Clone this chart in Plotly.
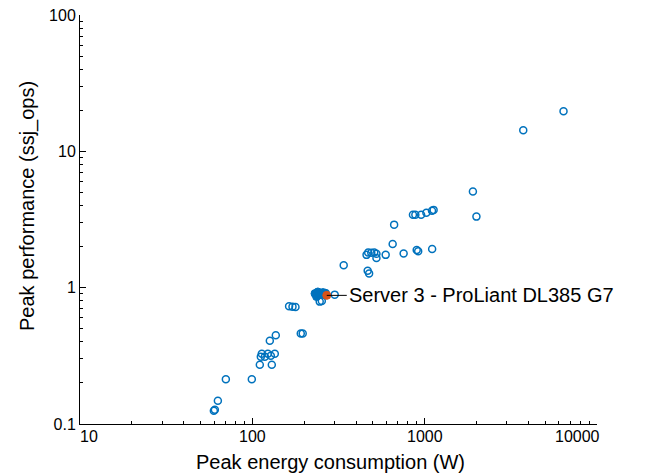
import plotly.graph_objects as go
import math

# Open-marker servers: peak energy (W) and peak performance (ssj_ops)
energy_open = [60.6, 59.8, 63.1, 70.2, 99.3, 110.5, 129.7,
               113.5, 118.2, 123, 128, 135, 112, 126.3, 136.8, 191, 196,
               163.4, 171, 178, 246, 253, 300.6,
               339, 460, 470, 490, 510, 525, 525, 594, 652, 665, 755,
               899, 917, 1105, 467, 476,
               855, 883, 954, 1023, 1103, 1127, 1905, 1997, 3733, 6393]
perf_open = [0.127, 0.125, 0.148, 0.213, 0.213, 0.272, 0.272,
             0.328, 0.312, 0.328, 0.317, 0.328, 0.312, 0.408, 0.447, 0.462, 0.462,
             0.73, 0.726, 0.722, 0.79, 0.80, 0.889,
             1.46, 1.74, 1.81, 1.80, 1.81, 1.77, 1.65, 1.74, 2.09, 2.90, 1.78,
             1.89, 1.85, 1.92, 1.33, 1.27,
             3.42, 3.42, 3.42, 3.55, 3.67, 3.72, 5.08, 3.32, 14.3, 19.7]

# Filled markers: servers in the same cluster as the highlighted one
energy_cluster = [231, 240, 248, 257, 236, 266, 262, 244]
perf_cluster = [0.905, 0.93, 0.90, 0.92, 0.86, 0.91, 0.885, 0.895]

# Highlighted server
energy_sel = [270.4]
perf_sel = [0.878]
sel_label = "Server 3 - ProLiant DL385 G7"

x_ticks = [10, 100, 1000, 10000]
x_ticklabels = ["10", "100", "1000", "10000"]
y_ticks = [0.1, 1, 10, 100]
y_ticklabels = ["0.1", "1", "10", "100"]
x_title = "Peak energy consumption (W)"
y_title = "Peak performance (ssj_ops)"

# style: horizontal nudges of the x tick labels (pixels)
x_label_nudge = [9, 0, 0, -20]

blue = "#0072BD"
red = "#D95319"
font_family = "Liberation Sans, Arial, sans-serif"
tick_size = 16
title_size = 20

def minor_vals(majors):
    return [m * k for m in majors[:-1] for k in range(2, 10)]

fig = go.Figure()
fig.add_trace(go.Scatter(
    x=energy_open, y=perf_open, mode="markers",
    marker=dict(symbol="circle-open", size=7, color=blue, line=dict(width=1.5, color=blue)),
    showlegend=False))
fig.add_trace(go.Scatter(
    x=energy_cluster, y=perf_cluster, mode="markers",
    marker=dict(symbol="circle", size=8, color=blue, line=dict(width=1, color=blue)),
    showlegend=False))
fig.add_trace(go.Scatter(
    x=energy_sel, y=perf_sel, mode="markers",
    marker=dict(symbol="circle", size=8, color=red, line=dict(width=1, color=red)),
    showlegend=False))

fig.add_annotation(
    x=math.log10(energy_sel[0]), y=math.log10(perf_sel[0]), xref="x", yref="y",
    text=sel_label, showarrow=True, arrowhead=0, arrowwidth=1, arrowcolor="black",
    ax=20, ay=0, xanchor="left", yanchor="middle", standoff=0,
    font=dict(family=font_family, size=title_size, color="black"))

# x tick labels as text annotations (edge labels pulled inward, as in the reference)
for v, t, dx in zip(x_ticks, x_ticklabels, x_label_nudge):
    fig.add_annotation(
        x=math.log10(v), y=0, xref="x", yref="paper", text=t, showarrow=False,
        xanchor="center", yanchor="top", xshift=dx, yshift=-2,
        font=dict(family=font_family, size=tick_size, color="black"))

# axis titles
fig.add_annotation(
    x=0.484, y=0, xref="paper", yref="paper", text=x_title, showarrow=False,
    xanchor="center", yanchor="middle", yshift=-38,
    font=dict(family=font_family, size=title_size, color="black"))
fig.add_annotation(
    x=0, y=0.533, xref="paper", yref="paper", text=y_title, showarrow=False,
    textangle=-90, xanchor="center", yanchor="middle", xshift=-53,
    font=dict(family=font_family, size=title_size, color="black"))

axis_common = dict(
    type="log", showline=True, linecolor="black", linewidth=1, mirror=False,
    showgrid=False, zeroline=False, ticks="inside", ticklen=6, tickcolor="black",
    automargin=False, ticklabeloverflow="allow",
    tickfont=dict(family=font_family, size=tick_size, color="black"),
)

fig.update_xaxes(
    range=[1, 4], tickmode="array", tickvals=x_ticks, ticktext=x_ticklabels,
    showticklabels=False,
    minor=dict(ticks="inside", ticklen=3, tickcolor="black", showgrid=False,
               tickmode="array", tickvals=minor_vals(x_ticks)),
    **axis_common)
fig.update_yaxes(
    range=[-1, 2], tickmode="array", tickvals=y_ticks, ticktext=y_ticklabels,
    minor=dict(ticks="inside", ticklen=3, tickcolor="black", showgrid=False,
               tickmode="array", tickvals=minor_vals(y_ticks)),
    **axis_common)

# the page adds an 8px body margin, so the figure is 8px smaller than the window
fig.update_layout(
    width=640, height=466,
    margin=dict(l=72, r=51, t=7, b=50),
    plot_bgcolor="white", paper_bgcolor="white",
)

fig.write_html("out.html")
